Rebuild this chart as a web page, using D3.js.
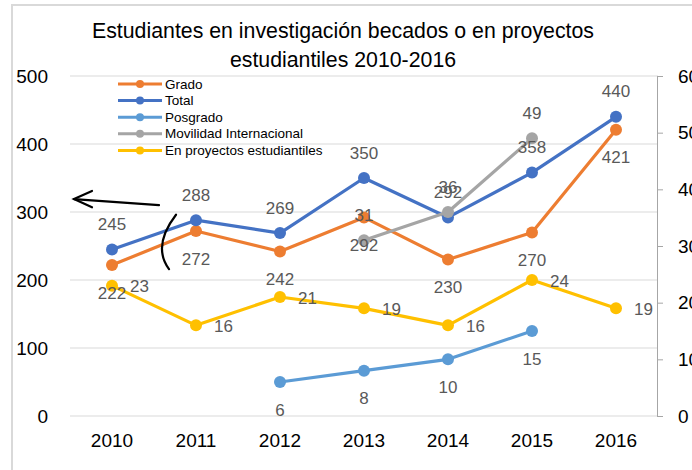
<!DOCTYPE html>
<html><head><meta charset="utf-8">
<script src="https://cdn.jsdelivr.net/npm/d3@7/dist/d3.min.js"></script>
<style>body{margin:0;background:#fff}svg{display:block}</style>
</head><body>
<svg id="c" width="692" height="470"></svg>
<script>
const years = ["2010","2011","2012","2013","2014","2015","2016"];
const leftTicks = [0,100,200,300,400,500];
const rightTicks = [0,10,20,30,40,50,60];
const titleLines = ["Estudiantes en investigación becados o en proyectos","estudiantiles 2010-2016"];

const grado = [222,272,242,292,230,270,421];
const total = [245,288,269,350,292,358,440];
const posgrado = [null,null,6,8,10,15,null];
const movilidad = [null,null,null,31,36,49,null];
const proyectos = [23,16,21,19,16,24,19];

const seriesNames = ["Grado","Total","Posgrado","Movilidad Internacional","En proyectos estudiantiles"];
const seriesColors = ["#ED7D31","#4472C4","#5B9BD5","#A5A5A5","#FFC000"];

const svg = d3.select("#c");
const font = "'Liberation Sans', Arial, sans-serif";
const L = 70, R = 658, T = 76, B = 416;

const x = d3.scaleBand().domain(years).range([L, R]);
const cx = d => x(d) + x.bandwidth()/2;
const yL = d3.scaleLinear().domain([0,500]).range([B, T]);
const yR = d3.scaleLinear().domain([0,60]).range([B, T]);

// frame
svg.append("rect").attr("x",12).attr("y",5).attr("width",720).attr("height",500)
  .attr("fill","#fff").attr("stroke","#d9d9d9").attr("stroke-width",2);

// title
svg.append("g").selectAll("text").data(titleLines).join("text")
  .attr("x",343).attr("y",(d,i)=>38+i*29).attr("text-anchor","middle")
  .attr("font-family",font).attr("font-size",21.3).attr("fill","#000").text(d=>d);

// gridlines
svg.append("g").selectAll("line").data(leftTicks).join("line")
  .attr("x1",L).attr("x2",R).attr("y1",d=>yL(d)).attr("y2",d=>yL(d))
  .attr("stroke","#d9d9d9").attr("stroke-width",1);

// left axis
const gl = svg.append("g").attr("transform",`translate(${L},0)`)
  .call(d3.axisLeft(yL).tickValues(leftTicks).tickSize(0).tickPadding(22));
gl.select(".domain").remove();
gl.selectAll("text").attr("font-family",font).attr("font-size",19).attr("fill","#000");

// right axis
const gr = svg.append("g").attr("transform",`translate(${R-1},0)`)
  .call(d3.axisRight(yR).tickValues(rightTicks).tickSize(6).tickPadding(15).tickSizeOuter(0));
gr.select(".domain").attr("stroke","#a6a6a6");
gr.selectAll(".tick line").attr("stroke","#a6a6a6");
gr.selectAll("text").attr("font-family",font).attr("font-size",19).attr("fill","#000");

// bottom axis labels
const gb = svg.append("g").attr("transform",`translate(0,${B})`)
  .call(d3.axisBottom(x).tickSize(0).tickPadding(18));
gb.select(".domain").remove();
gb.selectAll("text").attr("font-family",font).attr("font-size",19).attr("fill","#000");

const series = [
  {vals:grado, y:yL, pos:"below"},
  {vals:total, y:yL, pos:"above"},
  {vals:posgrado, y:yR, pos:"below"},
  {vals:movilidad, y:yR, pos:"above"},
  {vals:proyectos, y:yR, pos:"right"}
];

const linesG = svg.append("g");
const labelsG = svg.append("g");
series.forEach((s,i)=>{
  const pts = years.map((yr,j)=>({yr, v:s.vals[j]})).filter(p=>p.v!=null);
  const line = d3.line().x(p=>cx(p.yr)).y(p=>s.y(p.v));
  linesG.append("path").datum(pts).attr("d",line).attr("fill","none")
    .attr("stroke",seriesColors[i]).attr("stroke-width",3.2).attr("stroke-linejoin","round");
  linesG.append("g").selectAll("circle").data(pts).join("circle")
    .attr("cx",p=>cx(p.yr)).attr("cy",p=>s.y(p.v)).attr("r",6).attr("fill",seriesColors[i]);
  labelsG.append("g").selectAll("text").data(pts).join("text")
    .attr("x",p=>cx(p.yr) + (s.pos==="right"?18:0))
    .attr("y",p=>s.y(p.v) + (s.pos==="above"?-25:s.pos==="below"?28:1))
    .attr("dominant-baseline","central")
    .attr("text-anchor", s.pos==="right"?"start":"middle")
    .attr("font-family",font).attr("font-size",17).attr("fill","#595959")
    .text(p=>p.v);
});

// legend
const lg = svg.append("g");
seriesNames.forEach((n,i)=>{
  const yy = 84 + i*16.6;
  lg.append("line").attr("x1",118).attr("x2",162).attr("y1",yy).attr("y2",yy)
    .attr("stroke",seriesColors[i]).attr("stroke-width",3);
  lg.append("circle").attr("cx",140).attr("cy",yy).attr("r",4).attr("fill",seriesColors[i]);
  lg.append("text").attr("x",165).attr("y",yy).attr("dominant-baseline","central")
    .attr("font-family",font).attr("font-size",13.5).attr("fill","#000").text(n);
});

// hand-drawn annotations (arrow and bracket)
const ax0 = cx("2010") - 38, ax1 = cx("2010") + 47;
const ann = svg.append("g").attr("fill","none").attr("stroke","#000").attr("stroke-width",2.2).attr("stroke-linecap","round");
ann.append("path").attr("d",`M${ax1},${yL(310)} L${ax0},${yL(319)}`);
ann.append("path").attr("d",`M${ax0+18},${yL(331)} L${ax0},${yL(319)} L${ax0+18},${yL(307)}`);
const bx = cx("2011");
ann.append("path").attr("d",`M${bx-20},${yL(296)} Q${bx-44},${yL(250)} ${bx-27},${yL(216)}`);
</script>
</body></html>
